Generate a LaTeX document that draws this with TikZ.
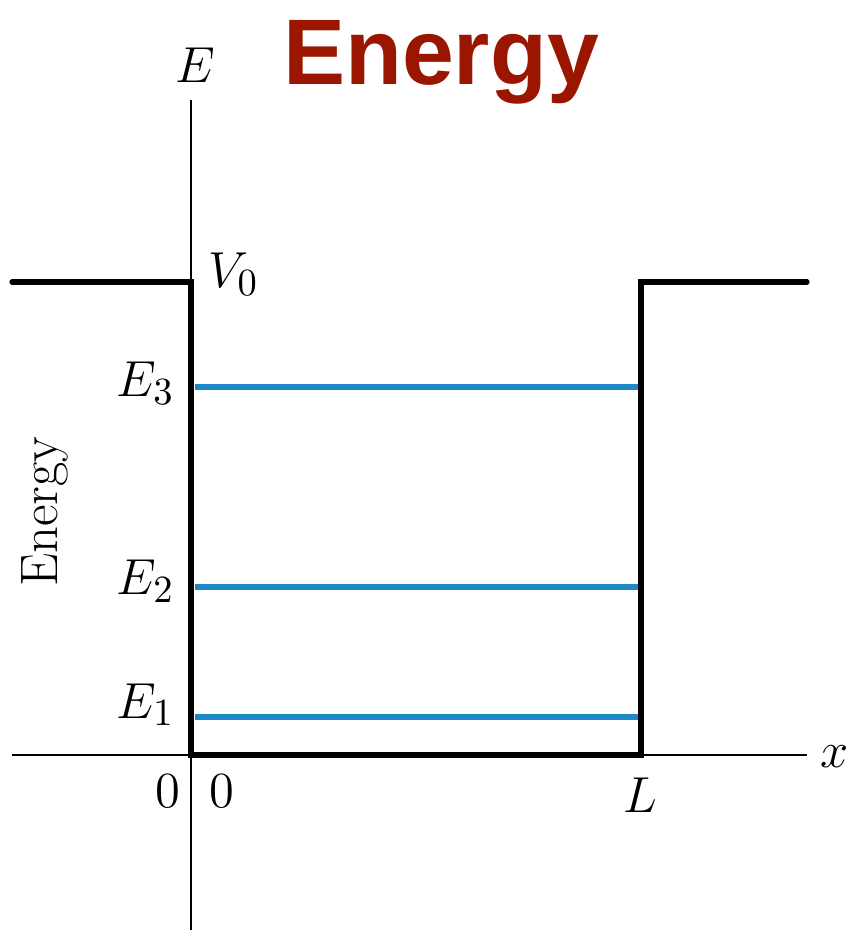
\documentclass[tikz,border=0pt]{standalone}
\usepackage{fontspec}
\newfontfamily\titlefont{Liberation Sans}
\usepackage{xcolor}
\definecolor{TitleRed}{HTML}{9B1600}
\definecolor{LevelBlue}{HTML}{1E88C8}
\usepackage{tikz}
\usetikzlibrary{positioning}

\tikzset{
  axisline/.style={line width=0.6pt, black},
  wellline/.style={line width=1.5pt, black, line cap=round, line join=miter},
  levelline/.style={line width=1.8pt, LevelBlue},
  lbl/.style={inner sep=0pt, font=\fontsize{15}{18}\selectfont}
}

\begin{document}
\begin{tikzpicture}[scale=1.0]
  \useasboundingbox (-1.91,-1.78) rectangle (6.60,7.55);

  % --- Axes ---
  \coordinate (ytop) at (0,6.55);
  \coordinate (ybot) at (0,-1.75);
  \coordinate (xleft) at (-1.79,0);
  \coordinate (xright) at (6.16,0);
  \draw[axisline] (ybot) -- (ytop);
  \draw[axisline] (xleft) -- (xright);

  % --- Puits de potentiel ---
  \coordinate (wTL) at (-1.79,4.73);
  \coordinate (wA) at (0,4.73);
  \coordinate (wO) at (0,0);
  \coordinate (wL) at (4.50,0);
  \coordinate (wB) at (4.50,4.73);
  \coordinate (wTR) at (6.16,4.73);
  \draw[wellline] (wTL) -- (wA) -- (wO) -- (wL) -- (wB) -- (wTR);

  % --- Niveaux d'energie ---
  \foreach \n/\y/\yb in {1/0.38/0.37, 2/1.68/1.60, 3/3.68/3.58} {
    \coordinate (lv\n a) at (0.04,\y);
    \coordinate (lv\n b) at (4.47,\y);
    \draw[levelline] (lv\n a) -- (lv\n b);
    \node[lbl, anchor=base east] (E\n) at (-0.16,\yb) {$E_{\n}$};
  }

  % --- Etiquettes ---
  \node[lbl] (Eaxis) at (0.04,6.90) {$E$};
  \node[lbl, anchor=base west] (V0) at (0.17,4.67) {$V_0$};
  \node[lbl] (zeroL) at (-0.23,-0.36) {$0$};
  \node[lbl] (zeroR) at (0.31,-0.36) {$0$};
  \node[lbl] (Llbl) at (4.49,-0.40) {$L$};
  \node[lbl] (xlbl) at (6.44,-0.02) {$x$};
  \node[lbl, rotate=90] (energy) at (-1.46,2.43) {Energy};

  % --- Titre ---
  \node[anchor=base, inner sep=0pt, text=TitleRed] (title) at (2.50,6.70)
    {\titlefont\fontsize{26.5}{30}\selectfont\bfseries Energy};
\end{tikzpicture}
\end{document}
